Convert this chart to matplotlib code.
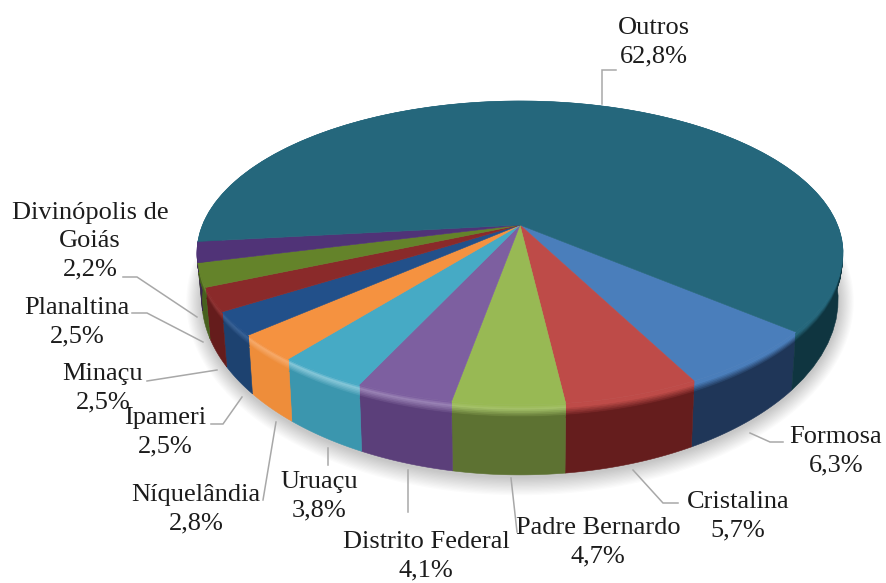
import numpy as np
import matplotlib
matplotlib.use('Agg')
import matplotlib.pyplot as plt
from matplotlib.patches import Polygon
from matplotlib.colors import to_rgb

# --- Data ---
names = ["Formosa", "Cristalina", "Padre Bernardo", "Distrito Federal", "Uruaçu",
         "Níquelândia", "Ipameri", "Minaçu", "Planaltina", "Divinópolis de\nGoiás", "Outros"]
values = [6.3, 5.7, 4.7, 4.1, 3.8, 2.8, 2.5, 2.5, 2.5, 2.2, 62.8]
top_colors = ["#4a7ebb", "#be4b48", "#98b954", "#7d5fa0", "#46aac5", "#f59240",
              "#22508a", "#8a2a2a", "#64832a", "#503377", "#25677c"]
wall_colors = ["#1f3658", "#651d1d", "#5d7232", "#5b3f7a", "#3b96ae", "#ee8d3a",
               "#1d4270", "#651c1c", "#47601e", "#3a2550", "#0f3540"]
rim_glow = [0.0, 0.0, 0.12, 0.22, 0.35, 0.22, 0.1, 0.05, 0.05, 0.0, 0.0]

# --- Layout (pixels of the 887x583 picture) ---
CX, CY = 520, 225
A, B, K = 317.5, 146.8, 0.184
DEPTH = 70
START = 40  # degrees clockwise from the right
label_pos = [(836, 451), (738, 516), (598, 542), (426, 556), (319, 496), (196, 509),
             (165, 432), (103, 388), (77, 322), (90, 241), (654, 42)]
leaders = [[(750, 433), (770, 442), (783, 442)],
           [(633, 470), (663, 503), (678, 503)],
           [(511, 478), (517, 532)],
           [(408, 470), (408, 512)],
           [(328, 448), (328, 465)],
           [(276, 422), (263, 500)],
           [(242, 397), (223, 424), (211, 424)],
           [(217, 370), (147, 381)],
           [(203, 342), (147, 313), (132, 313)],
           [(197, 317), (137, 277), (123, 277)],
           [(602, 104), (602, 70), (616, 70)]]


def project(theta, h=0.0):
    # circle point to picture, h = fraction of the pie height below the top
    u, v = np.cos(theta), np.sin(theta)
    w = 1 - K * v
    x = CX + A * u / w
    y = CY + B * v / w
    drop = DEPTH * (0.816 / w) ** 2.4
    return CX + (x - CX) * (1 - 0.015 * h), y + drop * h


def band(t0, t1, h0, h1, color, zorder):
    xa, ya = project(t0 + (t1 - t0) * np.linspace(0, 1, 60), h0)
    xb, yb = project(t1 + (t0 - t1) * np.linspace(0, 1, 60), h1)
    ax.add_patch(Polygon(np.c_[np.r_[xa, xb], np.r_[ya, yb]], closed=True, fc=color,
                         ec=color, lw=0.4, zorder=zorder))


def mix(c1, c2, f):
    return tuple((1 - f) * a + f * b for a, b in zip(to_rgb(c1), to_rgb(c2)))


fig = plt.figure(figsize=(8.87, 5.83), dpi=100)
ax = fig.add_axes([0, 0, 1, 1])
ax.set_xlim(0, 887)
ax.set_ylim(583, 0)
ax.axis('off')

# soft shadow under the pie
ring = np.linspace(0, 2 * np.pi, 240)
rx, ry = project(ring, 1.0)
for i in range(14, 0, -1):
    sx = CX + (rx - CX) * (1 + i * 0.0035)
    sy = 300 + (ry - 300) * (1 + i * 0.0075) + 2
    ax.add_patch(Polygon(np.c_[sx, sy], closed=True, fc='black', ec='none', alpha=0.016, zorder=1))

edges = np.radians(START + np.r_[0, np.cumsum(values)] / np.sum(values) * 360)

# side wall with a soft bevel at the rim, then the top face
for i in range(len(values)):
    t0, t1 = edges[i], edges[i + 1]
    band(t0, t1, 0.15, 1.0, wall_colors[i], 2)
    glow = mix(top_colors[i], 'white', rim_glow[i])
    for j in range(8):
        f = j / 7
        if f < 0.3:
            c = mix(top_colors[i], glow, f / 0.3)
        else:
            c = mix(glow, wall_colors[i], (f - 0.3) / 0.7)
        band(t0, t1, 0.024 * j, 0.024 * j + 0.03, c, 3)
for i in range(len(values)):
    t = edges[i] + (edges[i + 1] - edges[i]) * np.linspace(0, 1, 120)
    x, y = project(t)
    ax.add_patch(Polygon(np.c_[np.r_[CX, x], np.r_[CY, y]], closed=True, fc=top_colors[i],
                         ec=top_colors[i], lw=0.4, zorder=4))

# leader lines and labels
for pts in leaders:
    xs, ys = zip(*pts)
    ax.plot(xs, ys, color='#a8a8a8', lw=1.1, zorder=5, solid_joinstyle='miter')
for name, val, (lx, ly) in zip(names, values, label_pos):
    txt = name + "\n" + f"{val:.1f}".replace('.', ',') + "%"
    ax.text(lx, ly, txt, ha='center', va='center', family='Liberation Serif', fontsize=19,
            color='#1c1c1c', linespacing=1.38, zorder=6)

fig.savefig('out.png', dpi=100, facecolor='white')
